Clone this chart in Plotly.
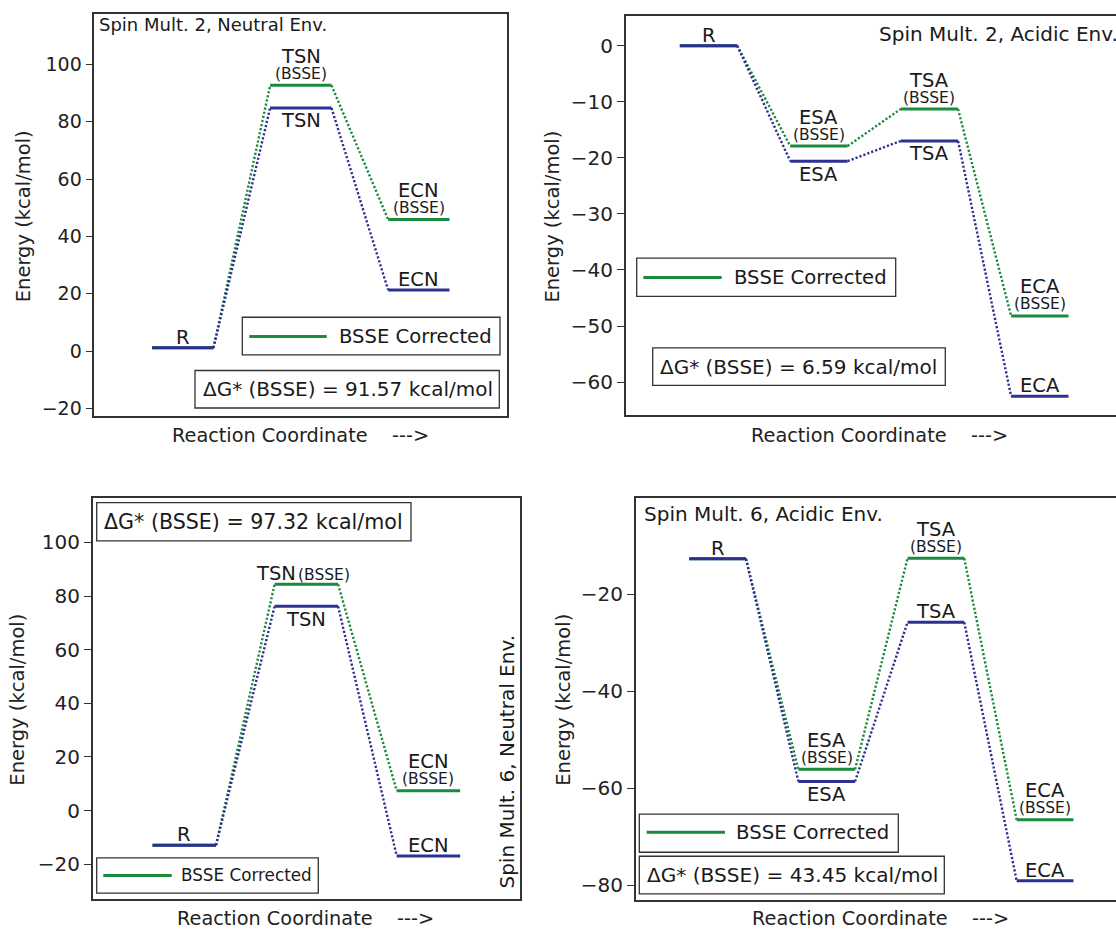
import numpy as np
import plotly.graph_objects as go

# ---------------- data ----------------
states_neutral = ["R", "TSN", "ECN"]
states_acidic = ["R", "ESA", "TSA", "ECA"]

# Spin Mult. 2, Neutral Env.
p1_orig = [1.1, 84.8, 21.3]
p1_bsse = [1.1, 92.7, 45.9]
# Spin Mult. 2, Acidic Env.
p2_orig = [0.0, -20.6, -17.0, -62.5]
p2_bsse = [0.0, -17.9, -11.3, -48.2]
# Spin Mult. 6, Neutral Env.
p3_orig = [-12.9, 76.2, -16.9]
p3_bsse = [-12.9, 84.4, 7.4]
# Spin Mult. 6, Acidic Env.
p4_orig = [-12.7, -58.6, -25.8, -79.1]
p4_bsse = [-12.7, -56.1, -12.6, -66.5]

titles = ["Spin Mult. 2, Neutral Env.", "Spin Mult. 2, Acidic Env.",
          "Spin Mult. 6, Neutral Env.", "Spin Mult. 6, Acidic Env."]
dg_texts = ["ΔG* (BSSE) = 91.57 kcal/mol", "ΔG* (BSSE) = 6.59 kcal/mol",
            "ΔG* (BSSE) = 97.32 kcal/mol", "ΔG* (BSSE) = 43.45 kcal/mol"]
legend_text = "BSSE Corrected"
ytitle = "Energy (kcal/mol)"
xtitle = "Reaction Coordinate\u00a0\u00a0\u00a0\u00a0--->"

p1_ticks = [-20, 0, 20, 40, 60, 80, 100]
p2_ticks = [-60, -50, -40, -30, -20, -10, 0]
p3_ticks = [-20, 0, 20, 40, 60, 80, 100]
p4_ticks = [-80, -60, -40, -20]

# ---------------- style ----------------
W, H = 1116, 930
BLUE = "#2d3091"
GREEN = "#1a8a3c"
TXT = "#1a1a1a"
AX = "#333333"
FONT = "DejaVu Sans"
HW = 0.26  # half width of a level


def px(x):
    return x / W


def py(y):
    return 1 - y / H


panels = [
    dict(states=states_neutral, orig=p1_orig, bsse=p1_bsse, ticks=p1_ticks,
         dom_x=(94.3, 507.3), dom_y=(14, 417.7), xr=[0.25, 3.75], yr=[-22.8, 117.6],
         right_line=True, tickfs=19,
         blue_pos=["above", "below", "above"], green_pos=[None, "stack", "stack"],
         title=dict(x=96.7, y=25, fs=18, angle=0),
         ylab=(23, 217), xlab=(300, 436.7),
         leg=dict(box=(242.3, 318.3, 500, 356), line=(249.3, 326.7, 337.7), text=(338.3, 337.7), fs=19.6),
         dg=dict(box=(195, 371.7, 499.3, 409.3), text=(201.7, 390.5), fs=20)),
    dict(states=states_acidic, orig=p2_orig, bsse=p2_bsse, ticks=p2_ticks,
         dom_x=(625.7, 1116), dom_y=(16, 416), xr=[0.25, 4.69], yr=[-65.8, 5.3],
         right_line=False, tickfs=20,
         blue_pos=["above", "below", "below", "above"], green_pos=[None, "stack", "stack", "stack"],
         title=dict(x=877.3, y=33.7, fs=20, angle=0),
         ylab=(553, 217.3), xlab=(879, 436.7),
         leg=dict(box=(636.7, 259, 895.7, 297.3), line=(643.3, 721.7, 278.3), text=(732.7, 278.3), fs=19.6),
         dg=dict(box=(652.7, 349, 945.3, 386.7), text=(659.3, 367.8), fs=20)),
    dict(states=states_neutral, orig=p3_orig, bsse=p3_bsse, ticks=p3_ticks,
         dom_x=(92.7, 520), dom_y=(499.3, 901.7), xr=[0.25, 3.75], yr=[-32.9, 116.7],
         right_line=True, tickfs=20,
         blue_pos=["above", "below", "above"], green_pos=[None, "inline", "stack"],
         title=dict(x=507, y=764, fs=20, angle=-90),
         ylab=(17.7, 702.2), xlab=(305, 921.7),
         leg=dict(box=(96.7, 860.7, 318.3, 896), line=(103.3, 171.7, 878.3), text=(180, 878.3), fs=16.8),
         dg=dict(box=(96.7, 504.3, 411, 542.7), text=(103.3, 523.5), fs=20.6)),
    dict(states=states_acidic, orig=p4_orig, bsse=p4_bsse, ticks=p4_ticks,
         dom_x=(635.7, 1116), dom_y=(499.3, 902.7), xr=[0.25, 4.65], yr=[-83.0, -0.1],
         right_line=False, tickfs=20,
         blue_pos=["above", "below", "above", "above"], green_pos=[None, "stack", "stack", "stack"],
         title=dict(x=641.7, y=515.3, fs=20, angle=0),
         ylab=(563.3, 701.7), xlab=(880.7, 921.7),
         leg=dict(box=(639.3, 816.7, 898.3, 855), line=(646.7, 725, 835), text=(735, 835), fs=19.7),
         dg=dict(box=(639.3, 859, 944.3, 896.7), text=(646, 877.8), fs=20.1)),
]


def level_xy(vals):
    xs, ys = [], []
    for i, v in enumerate(vals, start=1):
        xs += [i - HW, i + HW, None]
        ys += [v, v, None]
    return xs, ys


def conn_xy(vals):
    xs, ys = [], []
    for i in range(len(vals) - 1):
        xs += [i + 1 + HW, i + 2 - HW, None]
        ys += [vals[i], vals[i + 1], None]
    return xs, ys


fig = go.Figure()
annotations = []
shapes = []
layout = {}

for k, p in enumerate(panels, start=1):
    sx = "" if k == 1 else str(k)
    xref, yref = "x" + sx, "y" + sx
    # connectors then levels (green below blue)
    for vals, col in [(p["bsse"], GREEN), (p["orig"], BLUE)]:
        cx, cy = conn_xy(vals)
        fig.add_trace(go.Scatter(x=cx, y=cy, mode="lines", xaxis=xref, yaxis=yref,
                                 line=dict(color=col, width=2.4, dash="2.2px,2px"),
                                 showlegend=False, hoverinfo="skip"))
    for vals, col in [(p["bsse"], GREEN), (p["orig"], BLUE)]:
        lx, ly = level_xy(vals)
        fig.add_trace(go.Scatter(x=lx, y=ly, mode="lines", xaxis=xref, yaxis=yref,
                                 line=dict(color=col, width=3),
                                 showlegend=False, hoverinfo="skip"))

    layout["xaxis" + sx] = dict(domain=[px(p["dom_x"][0]), px(p["dom_x"][1])], range=p["xr"],
                                anchor=yref, showline=True, mirror=True, linecolor=AX, linewidth=1.5,
                                showticklabels=False, ticks="", showgrid=False, zeroline=False,
                                fixedrange=True)
    layout["yaxis" + sx] = dict(domain=[py(p["dom_y"][1]), py(p["dom_y"][0])], range=p["yr"],
                                anchor=xref, showline=True, mirror=p["right_line"], linecolor=AX,
                                linewidth=1.5, tickmode="array", tickvals=p["ticks"],
                                ticks="outside", ticklen=7, tickwidth=1.3, tickcolor=AX,
                                tickfont=dict(family=FONT, size=p["tickfs"], color="#222222"),
                                showgrid=False, zeroline=False, fixedrange=True)

    # state labels
    for i, st in enumerate(p["states"], start=1):
        vb = p["orig"][i - 1]
        vg = p["bsse"][i - 1]
        pos = p["blue_pos"][i - 1]
        shift = 10.5 if pos == "above" else -13
        annotations.append(dict(x=i, y=vb, xref=xref, yref=yref, text=st, showarrow=False,
                                xanchor="center", yanchor="middle", yshift=shift,
                                font=dict(family=FONT, size=19.5, color=TXT)))
        gp = p["green_pos"][i - 1]
        if gp == "stack":
            annotations.append(dict(x=i, y=vg, xref=xref, yref=yref, text=st, showarrow=False,
                                    xanchor="center", yanchor="middle", yshift=29,
                                    font=dict(family=FONT, size=19.5, color=TXT)))
            annotations.append(dict(x=i, y=vg, xref=xref, yref=yref, text="(BSSE)", showarrow=False,
                                    xanchor="center", yanchor="middle", yshift=11.5,
                                    font=dict(family=FONT, size=15.5, color=TXT)))
        elif gp == "inline":
            annotations.append(dict(x=i, y=vg, xref=xref, yref=yref, text=st, showarrow=False,
                                    xanchor="right", yanchor="middle", yshift=10.6, xshift=-8.6,
                                    font=dict(family=FONT, size=19.5, color=TXT)))
            annotations.append(dict(x=i, y=vg, xref=xref, yref=yref, text="(BSSE)", showarrow=False,
                                    xanchor="left", yanchor="middle", yshift=8.9, xshift=-10.3,
                                    font=dict(family=FONT, size=15.5, color=TXT)))

    # panel title
    t = p["title"]
    annotations.append(dict(x=px(t["x"]), y=py(t["y"]), xref="paper", yref="paper", text=titles[k - 1],
                            showarrow=False, xanchor="left" if t["angle"] == 0 else "center",
                            yanchor="middle", textangle=t["angle"],
                            font=dict(family=FONT, size=t["fs"], color=TXT)))
    # axis titles
    annotations.append(dict(x=px(p["ylab"][0]), y=py(p["ylab"][1]), xref="paper", yref="paper",
                            text=ytitle, showarrow=False, textangle=-90, xanchor="center",
                            yanchor="middle", font=dict(family=FONT, size=19.5, color="#222222")))
    annotations.append(dict(x=px(p["xlab"][0]), y=py(p["xlab"][1]), xref="paper", yref="paper",
                            text=xtitle, showarrow=False, xanchor="center", yanchor="middle",
                            font=dict(family=FONT, size=19.3, color="#222222")))
    # legend box
    lg = p["leg"]
    b = lg["box"]
    shapes.append(dict(type="rect", xref="paper", yref="paper", x0=px(b[0]), x1=px(b[2]),
                       y0=py(b[3]), y1=py(b[1]), line=dict(color=AX, width=1.3), fillcolor="white"))
    ln = lg["line"]
    shapes.append(dict(type="line", xref="paper", yref="paper", x0=px(ln[0]), x1=px(ln[1]),
                       y0=py(ln[2]), y1=py(ln[2]), line=dict(color=GREEN, width=3)))
    annotations.append(dict(x=px(lg["text"][0]), y=py(lg["text"][1]), xref="paper", yref="paper",
                            text=legend_text, showarrow=False, xanchor="left", yanchor="middle",
                            borderpad=0, font=dict(family=FONT, size=lg["fs"], color=TXT)))
    # delta G box
    dg = p["dg"]
    b = dg["box"]
    shapes.append(dict(type="rect", xref="paper", yref="paper", x0=px(b[0]), x1=px(b[2]),
                       y0=py(b[3]), y1=py(b[1]), line=dict(color=AX, width=1.3), fillcolor="white"))
    annotations.append(dict(x=px(dg["text"][0]), y=py(dg["text"][1]), xref="paper", yref="paper",
                            text=dg_texts[k - 1], showarrow=False, xanchor="left", yanchor="middle",
                            borderpad=0, font=dict(family=FONT, size=dg["fs"], color=TXT)))

fig.update_layout(**layout)
fig.update_layout(width=W, height=H, margin=dict(l=0, r=0, t=0, b=0),
                  paper_bgcolor="white", plot_bgcolor="white",
                  annotations=annotations, shapes=shapes, showlegend=False,
                  font=dict(family=FONT, color=TXT))

fig.write_html("out.html")
